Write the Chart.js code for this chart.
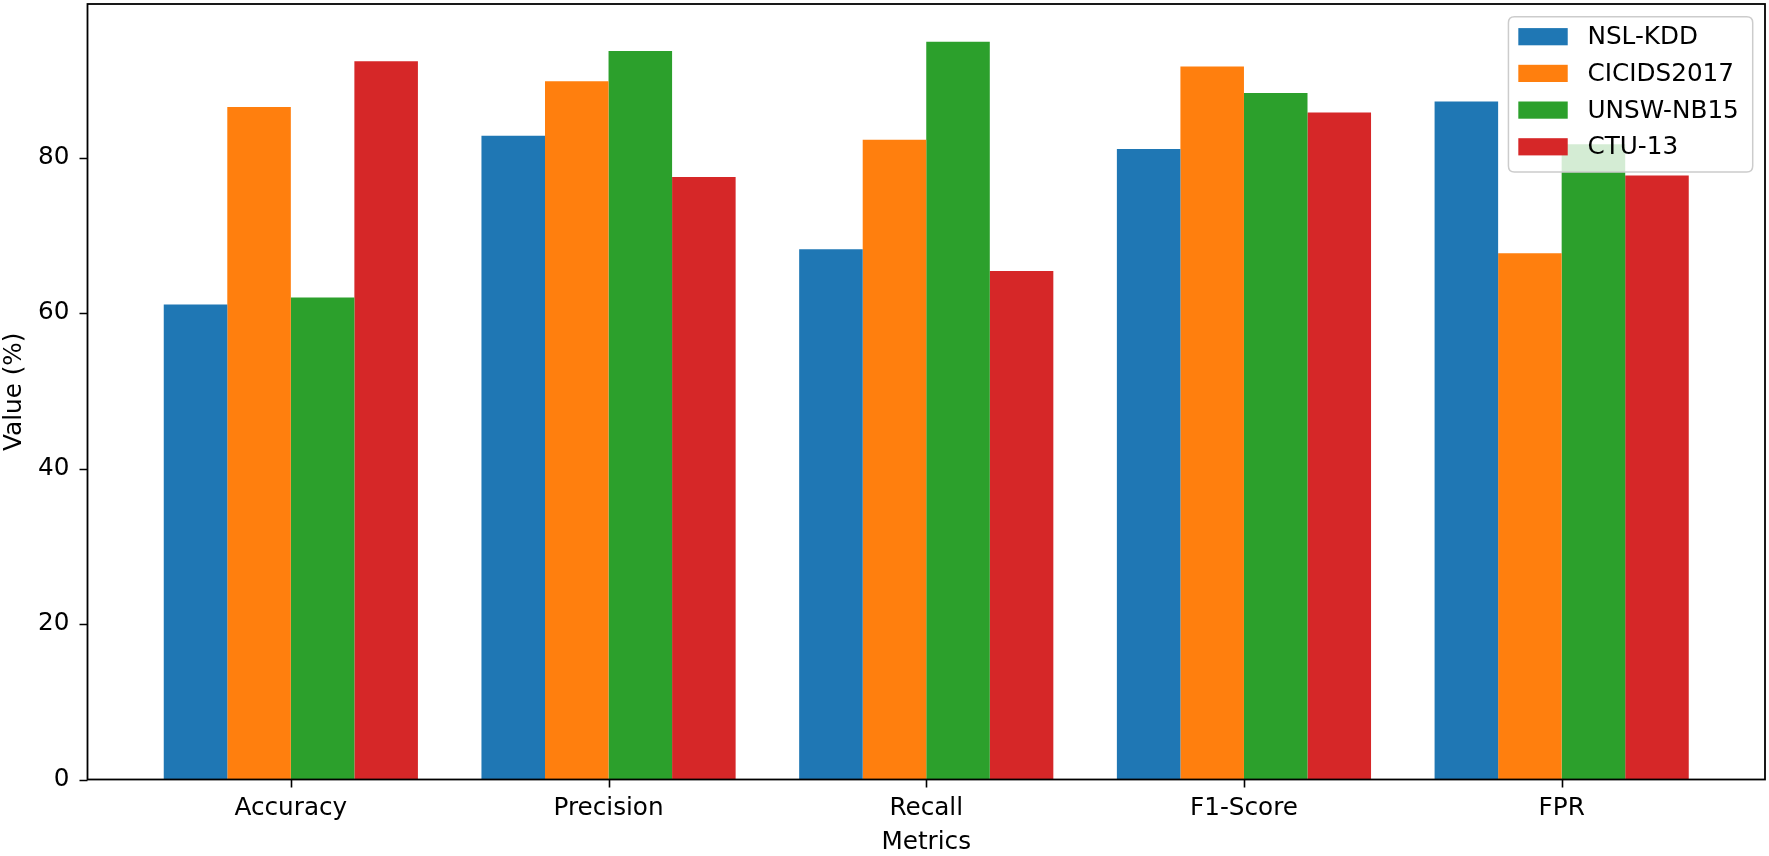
<!DOCTYPE html>
<html>
<head>
<meta charset="utf-8">
<script src="https://cdn.jsdelivr.net/npm/chart.js@4/dist/chart.umd.min.js"></script>
<style>
html,body{margin:0;padding:0;background:#fff;}
#wrap{width:1769px;height:856px;position:relative;}
</style>
</head>
<body>
<div id="wrap"><canvas id="c" width="1769" height="856"></canvas></div>
<script>
const categories = ["Accuracy", "Precision", "Recall", "F1-Score", "FPR"];
const seriesNames = ["NSL-KDD", "CICIDS2017", "UNSW-NB15", "CTU-13"];
const nslKdd     = [61.1, 82.8, 68.2, 81.1, 87.2];
const cicids2017 = [86.5, 89.8, 82.3, 91.7, 67.7];
const unswNb15   = [62.0, 93.7, 94.9, 88.3, 81.7];
const ctu13      = [92.4, 77.5, 65.4, 85.8, 77.7];
const yTicks = [0, 20, 40, 60, 80];
const colors = ["#1f77b4", "#ff7f0e", "#2ca02c", "#d62728"];

const seriesValues = [nslKdd, cicids2017, unswNb15, ctu13];
const FONT = "'DejaVu Sans', sans-serif";
const FS = 24.7;
const TICK_LEN = 8;

const framePlugin = {
  id: 'frameAndLegend',
  afterDatasetsDraw(chart) {
    const ctx = chart.ctx, a = chart.chartArea;
    ctx.save();
    ctx.strokeStyle = '#000';
    ctx.lineWidth = 1.6;
    // tick marks (outward), positioned by the library's scales
    const xs = chart.scales.x, ys = chart.scales.y;
    ctx.beginPath();
    xs.ticks.forEach(t => {
      const px = Math.round(xs.getPixelForValue(t.value)) + 0.5;
      ctx.moveTo(px, a.bottom);
      ctx.lineTo(px, a.bottom + TICK_LEN);
    });
    ys.ticks.forEach(t => {
      const py = Math.round(ys.getPixelForValue(t.value)) + 0.5;
      ctx.moveTo(a.left, py);
      ctx.lineTo(a.left - TICK_LEN, py);
    });
    ctx.stroke();
    ctx.lineWidth = 1.8;
    ctx.strokeRect(a.left, a.top, a.right - a.left, a.bottom - a.top);
    ctx.restore();

    // legend (upper right, matplotlib style)
    const ds = chart.data.datasets;
    ctx.save();
    ctx.font = FS + 'px ' + FONT;
    let maxW = 0;
    ds.forEach(d => { maxW = Math.max(maxW, ctx.measureText(d.label).width); });
    const pad = 0.4 * FS, handleLen = 2.0 * FS, handlePad = 0.8 * FS;
    const rowH = 36.7;
    const boxW = pad * 2 + handleLen + handlePad + maxW + 4;
    const boxH = 155.3;
    const bx = a.right - 12.3 - boxW;
    const by = a.top + 12.7;
    const r = 6;
    ctx.beginPath();
    ctx.moveTo(bx + r, by);
    ctx.lineTo(bx + boxW - r, by);
    ctx.quadraticCurveTo(bx + boxW, by, bx + boxW, by + r);
    ctx.lineTo(bx + boxW, by + boxH - r);
    ctx.quadraticCurveTo(bx + boxW, by + boxH, bx + boxW - r, by + boxH);
    ctx.lineTo(bx + r, by + boxH);
    ctx.quadraticCurveTo(bx, by + boxH, bx, by + boxH - r);
    ctx.lineTo(bx, by + r);
    ctx.quadraticCurveTo(bx, by, bx + r, by);
    ctx.closePath();
    ctx.fillStyle = 'rgba(255,255,255,0.8)';
    ctx.fill();
    ctx.strokeStyle = '#cccccc';
    ctx.lineWidth = 1.5;
    ctx.stroke();
    ds.forEach((d, i) => {
      const cy = by + 20 + i * rowH;
      ctx.fillStyle = d.backgroundColor;
      ctx.fillRect(bx + pad, cy - 8.6, handleLen, 17.2);
      ctx.fillStyle = '#000';
      ctx.textBaseline = 'middle';
      ctx.textAlign = 'left';
      ctx.fillText(d.label, bx + pad + handleLen + handlePad, cy + 1);
    });
    ctx.restore();
  }
};

new Chart(document.getElementById('c'), {
  type: 'bar',
  data: {
    datasets: seriesNames.map((name, k) => ({
      label: name,
      data: categories.map((c, i) => ({ x: i, y: seriesValues[k][i] })),
      backgroundColor: colors[k],
      borderWidth: 0,
      categoryPercentage: 0.8,
      barPercentage: 1.0
    }))
  },
  options: {
    responsive: false,
    animation: false,
    devicePixelRatio: 1,
    layout: { padding: { left: 0, top: 4, right: 4, bottom: 0 } },
    plugins: { legend: { display: false }, tooltip: { enabled: false } },
    scales: {
      x: {
        type: 'linear',
        min: -0.64,
        max: 4.64,
        offset: false,
        afterBuildTicks: s => { s.ticks = categories.map((c, i) => ({ value: i })); },
        afterFit: s => { s.height = 76.5; s.paddingLeft = 0; s.paddingRight = 0; },
        ticks: {
          callback: v => categories[v],
          color: '#000',
          font: { family: FONT, size: FS },
          padding: 6,
          maxRotation: 0,
          autoSkip: false
        },
        grid: { display: false, offset: false, tickLength: TICK_LEN },
        border: { display: false },
        title: { display: true, text: 'Metrics', color: '#000', font: { family: FONT, size: FS, lineHeight: 1.1 }, padding: { top: 0, bottom: 0 } }
      },
      y: {
        min: 0,
        max: 99.75,
        afterBuildTicks: s => { s.ticks = yTicks.map(v => ({ value: v })); },
        afterFit: s => { s.width = 87.5; s.paddingTop = 0; s.paddingBottom = 0; },
        ticks: {
          color: '#000',
          font: { family: FONT, size: FS },
          padding: 10
        },
        grid: { display: false, tickLength: TICK_LEN },
        border: { display: false },
        title: { display: true, text: 'Value (%)', color: '#000', font: { family: FONT, size: FS }, padding: { top: 0, bottom: 0 } }
      }
    }
  },
  plugins: [framePlugin]
});
</script>
</body>
</html>
